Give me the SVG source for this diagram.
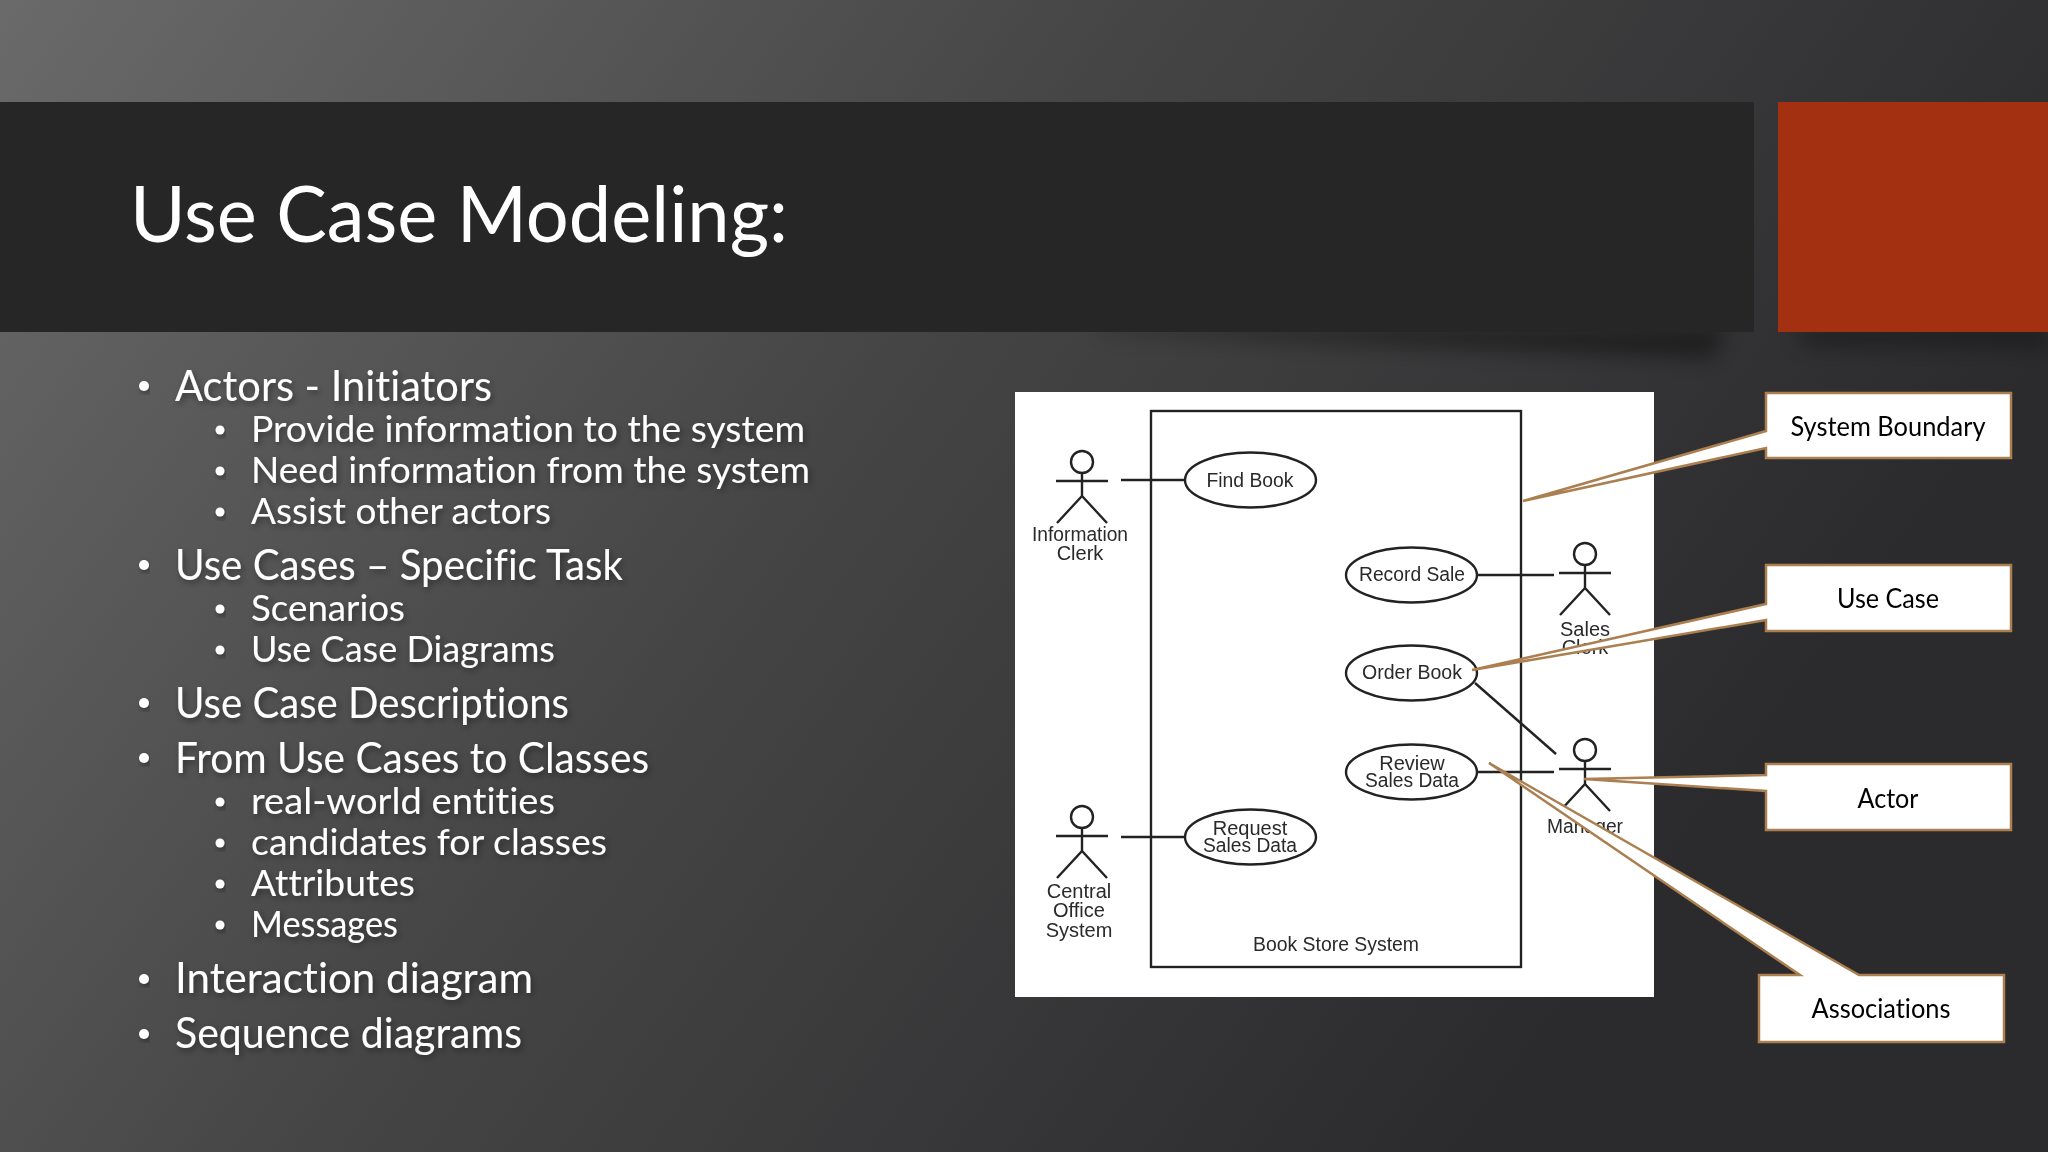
<svg xmlns="http://www.w3.org/2000/svg" width="2048" height="1152" viewBox="0 0 2048 1152">
<style>
text{font-variant-ligatures:none}
.t{font-family:"Lato","Noto Sans",sans-serif;fill:#fff;filter:url(#ts)}
.m{font-size:42px}.s{font-size:37px}
.bu{fill:#fff;filter:url(#ts)}
.u{font-family:"Liberation Sans",Arial,sans-serif;font-size:20px;fill:#2a2a2a;text-anchor:middle}
.ln{stroke:#222;stroke-width:2.4;fill:none}
.el{stroke:#222;stroke-width:2.4;fill:#fff}
.cal{fill:#fff;stroke:#ab7f50;stroke-width:2.5}
.ct{font-family:"Lato","Noto Sans",sans-serif;font-size:26px;fill:#000;text-anchor:middle}
</style>
<defs>
<linearGradient id="bg" gradientUnits="userSpaceOnUse" x1="0" y1="0" x2="1500" y2="1100">
<stop offset="0" stop-color="#6a6a6a"/><stop offset="0.5" stop-color="#454546"/><stop offset="1" stop-color="#2b2b2d"/>
</linearGradient>
<filter id="ts" x="-10%" y="-30%" width="120%" height="170%"><feDropShadow dx="2" dy="3" stdDeviation="3" flood-color="#000" flood-opacity="0.4"/></filter>
<filter id="bl" x="-10%" y="-300%" width="120%" height="700%"><feGaussianBlur stdDeviation="10"/></filter>
<filter id="soft" x="-2%" y="-2%" width="104%" height="104%"><feGaussianBlur stdDeviation="0.5"/></filter>
<g id="stick"><ellipse cx="0" cy="0" rx="11" ry="11" class="el"/><path class="ln" d="M-26 19H26M0 11V34M-25 61L0 34L25 61"/></g>
</defs>
<rect width="2048" height="1152" fill="url(#bg)"/>
<path d="M1100 328H1728L1712 358Q1450 348 1100 332Z" fill="#000" opacity="0.4" filter="url(#bl)"/>
<path d="M1795 328H2048V346H1805Z" fill="#000" opacity="0.35" filter="url(#bl)"/>
<rect id="title-band" x="0" y="102" width="1754" height="230" fill="#262627"/>
<rect id="accent" x="1778" y="102" width="270" height="230" fill="#a23011"/>
<text id="title" x="130" y="241.5" class="t" font-size="78" textLength="658" lengthAdjust="spacingAndGlyphs" style="filter:none">Use Case Modeling:</text>
<g id="bullets">
<circle class="bu" cx="144" cy="386" r="5"/><text class="t m" x="175" y="401" textLength="317" lengthAdjust="spacingAndGlyphs">Actors - Initiators</text>
<circle class="bu" cx="220" cy="430" r="4.5"/><text class="t s" x="251" y="442" textLength="554" lengthAdjust="spacingAndGlyphs">Provide information to the system</text>
<circle class="bu" cx="220" cy="471" r="4.5"/><text class="t s" x="251" y="483" textLength="559" lengthAdjust="spacingAndGlyphs">Need information from the system</text>
<circle class="bu" cx="220" cy="512" r="4.5"/><text class="t s" x="251" y="524" textLength="300" lengthAdjust="spacingAndGlyphs">Assist other actors</text>
<circle class="bu" cx="144" cy="565" r="5"/><text class="t m" x="175" y="580" textLength="448" lengthAdjust="spacingAndGlyphs">Use Cases – Specific Task</text>
<circle class="bu" cx="220" cy="609" r="4.5"/><text class="t s" x="251" y="621" textLength="154" lengthAdjust="spacingAndGlyphs">Scenarios</text>
<circle class="bu" cx="220" cy="650" r="4.5"/><text class="t s" x="251" y="662" textLength="304" lengthAdjust="spacingAndGlyphs">Use Case Diagrams</text>
<circle class="bu" cx="144" cy="703" r="5"/><text class="t m" x="175" y="718" textLength="394" lengthAdjust="spacingAndGlyphs">Use Case Descriptions</text>
<circle class="bu" cx="144" cy="758" r="5"/><text class="t m" x="175" y="773" textLength="474" lengthAdjust="spacingAndGlyphs">From Use Cases to Classes</text>
<circle class="bu" cx="220" cy="802" r="4.5"/><text class="t s" x="251" y="814" textLength="304" lengthAdjust="spacingAndGlyphs">real-world entities</text>
<circle class="bu" cx="220" cy="843" r="4.5"/><text class="t s" x="251" y="855" textLength="356" lengthAdjust="spacingAndGlyphs">candidates for classes</text>
<circle class="bu" cx="220" cy="884" r="4.5"/><text class="t s" x="251" y="896" textLength="164" lengthAdjust="spacingAndGlyphs">Attributes</text>
<circle class="bu" cx="220" cy="925" r="4.5"/><text class="t s" x="251" y="937" textLength="147" lengthAdjust="spacingAndGlyphs">Messages</text>
<circle class="bu" cx="144" cy="979" r="5"/><text class="t m" x="175" y="993" textLength="358" lengthAdjust="spacingAndGlyphs">Interaction diagram</text>
<circle class="bu" cx="144" cy="1034" r="5"/><text class="t m" x="175" y="1048" textLength="347" lengthAdjust="spacingAndGlyphs">Sequence diagrams</text>
</g>
<rect id="panel" x="1015" y="392" width="639" height="605" fill="#fff"/>
<g id="uml" filter="url(#soft)">
<g id="system-boundary"><rect x="1151" y="411" width="370" height="556" class="ln"/><text class="u" x="1336" y="951" textLength="166" lengthAdjust="spacingAndGlyphs">Book Store System</text></g>
<g id="connectors">
<path class="ln" d="M1121 480H1185"/>
<path class="ln" d="M1121 837H1185"/>
<path class="ln" d="M1478 575H1554"/>
<path class="ln" d="M1475 683L1556 754"/>
<path class="ln" d="M1478 772H1554"/>
</g>
<g id="actor-info"><use href="#stick" x="1082" y="462"/><text class="u" x="1080" y="541" textLength="96" lengthAdjust="spacingAndGlyphs">Information</text><text class="u" x="1080" y="560">Clerk</text></g>
<g id="actor-central"><use href="#stick" x="1082" y="817"/><text class="u" x="1079" y="898">Central</text><text class="u" x="1079" y="917">Office</text><text class="u" x="1079" y="937">System</text></g>
<g id="actor-sales"><use href="#stick" x="1585" y="554"/><text class="u" x="1585" y="636">Sales</text><text class="u" x="1585" y="654">Clerk</text></g>
<g id="actor-manager"><use href="#stick" x="1585" y="750"/><text class="u" x="1585" y="833" textLength="76" lengthAdjust="spacingAndGlyphs">Manager</text></g>
<g id="uc-find"><ellipse class="el" cx="1250.5" cy="480" rx="65.5" ry="27.5"/><text class="u" x="1250" y="487" textLength="87" lengthAdjust="spacingAndGlyphs">Find Book</text></g>
<g id="uc-record"><ellipse class="el" cx="1411.5" cy="575" rx="65.5" ry="27.5"/><text class="u" x="1412" y="581" textLength="106" lengthAdjust="spacingAndGlyphs">Record Sale</text></g>
<g id="uc-order"><ellipse class="el" cx="1411.5" cy="673" rx="65.5" ry="27.5"/><text class="u" x="1412" y="679" textLength="100" lengthAdjust="spacingAndGlyphs">Order Book</text></g>
<g id="uc-review"><ellipse class="el" cx="1411.5" cy="772" rx="65.5" ry="27.5"/><text class="u" x="1412" y="770">Review</text><text class="u" x="1412" y="787" textLength="94" lengthAdjust="spacingAndGlyphs">Sales Data</text></g>
<g id="uc-request"><ellipse class="el" cx="1250.5" cy="837" rx="65.5" ry="27.5"/><text class="u" x="1250" y="835">Request</text><text class="u" x="1250" y="852" textLength="94" lengthAdjust="spacingAndGlyphs">Sales Data</text></g>
</g>
<g id="callout-system"><path class="cal" d="M1766 393H2011V458H1766V448L1523 501L1766 431Z"/><text class="ct" x="1888" y="436" textLength="195" lengthAdjust="spacingAndGlyphs">System Boundary</text></g>
<g id="callout-usecase"><path class="cal" d="M1766 565H2011V631H1766V620L1472 670L1766 604Z"/><text class="ct" x="1888" y="608" textLength="102" lengthAdjust="spacingAndGlyphs">Use Case</text></g>
<g id="callout-actor"><path class="cal" d="M1766 764H2011V830H1766V791L1584 779L1766 775Z"/><text class="ct" x="1888" y="808" textLength="61" lengthAdjust="spacingAndGlyphs">Actor</text></g>
<g id="callout-assoc"><path class="cal" d="M1759 975H1800L1489 763L1859 975H2004V1042H1759Z"/><text class="ct" x="1881" y="1018" textLength="139" lengthAdjust="spacingAndGlyphs">Associations</text></g>
</svg>
